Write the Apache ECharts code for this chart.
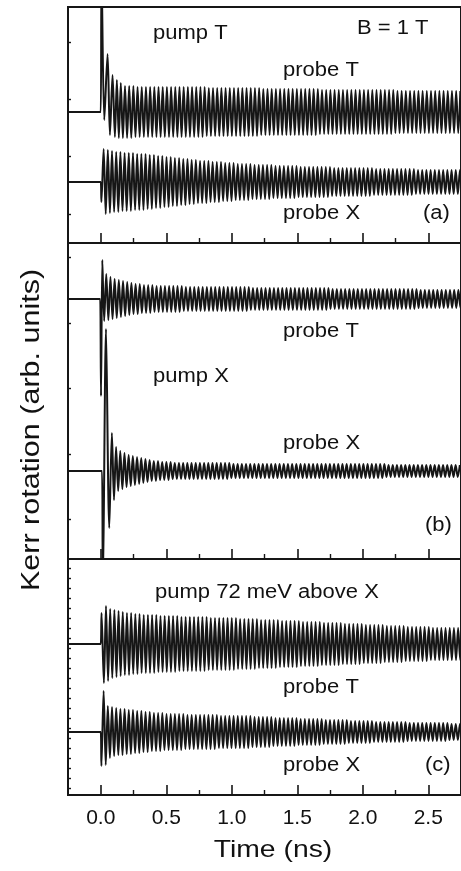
<!DOCTYPE html>
<html>
<head>
<meta charset="utf-8">
<script src="https://cdn.jsdelivr.net/npm/echarts@6/dist/echarts.min.js"></script>
<style>
  html, body { margin: 0; padding: 0; background: #fff; }
  #chart { width: 461px; height: 871px; }
</style>
</head>
<body>
<div id="chart"></div>
<script>
// ---- time axis -------------------------------------------------------------
const TIME_TICKS = [0, 0.5, 1.0, 1.5, 2.0, 2.5];
const TIME_MINOR_TICKS = [0.25, 0.75, 1.25, 1.75, 2.25, 2.75];
const HALF_PERIOD = 0.016;   // ns, half of the ~32 ps Larmor precession period

// ---- panel (a): pump T -----------------------------------------------------
const aProbeTOffset = 13.1;
const aProbeTLead = [[-0.25, 0], [-0.01, 0], [0.0, 0], [0.006, 14], [0.027, -0.8], [0.052, 5.8],
  [0.070, -2.3], [0.090, 3.7], [0.108, -2.5], [0.123, 3.2], [0.138, -2.6], [0.153, 2.9]];
const aProbeTStart = 0.169;
const aProbeTAmp = [
  2.6, 2.6, 2.6, 2.5, 2.5, 2.5, 2.5, 2.5, 2.5, 2.5,
  2.5, 2.5, 2.5, 2.5, 2.5, 2.5, 2.5, 2.5, 2.5, 2.5,
  2.4, 2.4, 2.4, 2.4, 2.4, 2.4, 2.4, 2.4, 2.4, 2.4,
  2.4, 2.4, 2.4, 2.3, 2.3, 2.3, 2.3, 2.3, 2.3, 2.3,
  2.3, 2.3, 2.3, 2.3, 2.3, 2.3, 2.3, 2.2, 2.2, 2.2,
  2.2, 2.2, 2.2, 2.2, 2.2, 2.2, 2.2, 2.2, 2.2, 2.2,
  2.2, 2.2, 2.2, 2.2, 2.2, 2.1, 2.1, 2.1, 2.1, 2.1,
  2.1, 2.1, 2.1, 2.1, 2.1, 2.1, 2.1, 2.1, 2.1, 2.1,
  2.1];

const aProbeXOffset = 6.1;
const aProbeXLead = [[-0.25, 0], [-0.01, 0], [0.0, 0], [0.005, -2.0], [0.022, 3.3], [0.038, -3.2],
  [0.054, 3.2], [0.070, -3.1], [0.086, 3.1]];
const aProbeXStart = 0.102;
const aProbeXAmp = [
  3.0, 3.0, 2.9, 2.9, 2.9, 2.8, 2.8, 2.8, 2.7, 2.7,
  2.6, 2.6, 2.5, 2.5, 2.4, 2.4, 2.3, 2.3, 2.2, 2.2,
  2.1, 2.1, 2.1, 2.0, 2.0, 2.0, 1.9, 1.9, 1.9, 1.8,
  1.8, 1.8, 1.8, 1.7, 1.7, 1.7, 1.7, 1.7, 1.6, 1.6,
  1.6, 1.6, 1.6, 1.6, 1.5, 1.5, 1.5, 1.5, 1.5, 1.5,
  1.5, 1.5, 1.4, 1.4, 1.4, 1.4, 1.4, 1.4, 1.4, 1.4,
  1.4, 1.4, 1.3, 1.3, 1.3, 1.3, 1.3, 1.3, 1.3, 1.3,
  1.3, 1.3, 1.2, 1.2, 1.2, 1.2, 1.2, 1.2, 1.2, 1.2,
  1.2, 1.2, 1.2, 1.2];

// ---- panel (b): pump X -----------------------------------------------------
const bProbeTOffset = 26.0;
const bProbeTLead = [[-0.25, 0], [-0.01, 0], [-0.004, 0], [0.002, -9.7], [0.012, 3.9], [0.026, -2.2],
  [0.042, 2.5], [0.058, -2.1], [0.074, 2.2]];
const bProbeTStart = 0.090;
const bProbeTAmp = [
  2.0, 1.9, 1.8, 1.7, 1.6, 1.5, 1.5, 1.4, 1.4, 1.4,
  1.3, 1.3, 1.3, 1.3, 1.3, 1.3, 1.3, 1.2, 1.2, 1.2,
  1.2, 1.2, 1.2, 1.2, 1.2, 1.2, 1.2, 1.2, 1.2, 1.2,
  1.2, 1.2, 1.2, 1.1, 1.1, 1.1, 1.1, 1.1, 1.1, 1.1,
  1.1, 1.1, 1.1, 1.1, 1.1, 1.1, 1.1, 1.1, 1.1, 1.1,
  1.1, 1.1, 1.0, 1.0, 1.0, 1.0, 1.0, 1.0, 1.0, 1.0,
  1.0, 1.0, 1.0, 1.0, 1.0, 1.0, 1.0, 1.0, 1.0, 1.0,
  1.0, 1.0, 1.0, 0.9, 0.9, 0.9, 0.9, 0.9, 0.9, 0.9,
  0.9, 0.9, 0.9, 0.9];

const bProbeXOffset = 8.8;
const bProbeXLead = [[-0.25, 0], [0.0, 0], [0.01, 0], [0.016, -12], [0.040, 14.2], [0.065, -5.7],
  [0.085, 3.8], [0.101, -2.9], [0.117, 2.4]];
const bProbeXStart = 0.133;
const bProbeXAmp = [
  2.0, 1.8, 1.6, 1.5, 1.4, 1.3, 1.2, 1.1, 1.0, 1.0,
  0.9, 0.9, 0.9, 0.8, 0.8, 0.8, 0.8, 0.8, 0.8, 0.8,
  0.8, 0.8, 0.8, 0.8, 0.8, 0.8, 0.8, 0.7, 0.7, 0.7,
  0.7, 0.7, 0.7, 0.7, 0.7, 0.7, 0.7, 0.7, 0.7, 0.7,
  0.7, 0.7, 0.7, 0.7, 0.7, 0.7, 0.7, 0.7, 0.7, 0.7,
  0.7, 0.7, 0.7, 0.7, 0.7, 0.7, 0.7, 0.7, 0.7, 0.7,
  0.7, 0.7, 0.7, 0.7, 0.6, 0.6, 0.6, 0.6, 0.6, 0.6,
  0.6, 0.6, 0.6, 0.6, 0.6, 0.6, 0.6, 0.6, 0.6, 0.6,
  0.6, 0.6];

// ---- panel (c): pump 72 meV above X ---------------------------------------
const cProbeTOffset = 15.1;
const cProbeTLead = [[-0.25, 0], [-0.01, 0], [0.0, 0], [0.006, 3.1], [0.024, -3.9], [0.040, 3.8],
  [0.056, -3.7], [0.072, 3.5]];
const cProbeTStart = 0.088;
const cProbeTAmp = [
  3.4, 3.3, 3.2, 3.1, 3.1, 3.0, 3.0, 2.9, 2.9, 2.9,
  2.9, 2.8, 2.8, 2.8, 2.8, 2.8, 2.7, 2.7, 2.7, 2.7,
  2.7, 2.7, 2.7, 2.6, 2.6, 2.6, 2.6, 2.6, 2.6, 2.6,
  2.5, 2.5, 2.5, 2.5, 2.5, 2.4, 2.4, 2.4, 2.4, 2.4,
  2.3, 2.3, 2.3, 2.3, 2.3, 2.2, 2.2, 2.2, 2.2, 2.2,
  2.1, 2.1, 2.1, 2.1, 2.1, 2.0, 2.0, 2.0, 2.0, 2.0,
  1.9, 1.9, 1.9, 1.9, 1.9, 1.8, 1.8, 1.8, 1.8, 1.8,
  1.7, 1.7, 1.7, 1.7, 1.7, 1.7, 1.6, 1.6, 1.6, 1.6,
  1.6, 1.6, 1.6, 1.6];

const cProbeXOffset = 6.3;
const cProbeXLead = [[-0.25, 0], [-0.01, 0], [0.0, 0], [0.005, -3.4], [0.022, 4.1], [0.038, -3.3],
  [0.054, 2.6], [0.070, -2.6], [0.086, 2.5]];
const cProbeXStart = 0.102;
const cProbeXAmp = [
  2.4, 2.3, 2.3, 2.2, 2.2, 2.1, 2.1, 2.0, 2.0, 1.9,
  1.9, 1.9, 1.8, 1.8, 1.8, 1.8, 1.8, 1.7, 1.7, 1.7,
  1.7, 1.7, 1.7, 1.7, 1.7, 1.6, 1.6, 1.6, 1.6, 1.6,
  1.6, 1.6, 1.6, 1.5, 1.5, 1.5, 1.5, 1.5, 1.4, 1.4,
  1.4, 1.4, 1.4, 1.4, 1.3, 1.3, 1.3, 1.3, 1.3, 1.3,
  1.2, 1.2, 1.2, 1.2, 1.2, 1.2, 1.1, 1.1, 1.1, 1.1,
  1.1, 1.1, 1.0, 1.0, 1.0, 1.0, 1.0, 1.0, 1.0, 1.0,
  0.9, 0.9, 0.9, 0.9, 0.9, 0.9, 0.9, 0.9, 0.9, 0.9,
  0.8, 0.8, 0.8, 0.8];

// y-axis tick marks (arb. units) of each panel
const aYTicks = [2.9, 8.7, 14.4, 20.1];
const bYTicks = [4.0, 10.5, 17.1, 23.6, 30.2];
const cYTicks = [0.7, 1.7, 2.7, 3.7, 4.7, 5.7, 6.7, 7.7, 8.7, 9.7, 10.7, 11.7,
  12.7, 13.7, 14.7, 15.7, 16.7, 17.7, 18.7, 19.7, 20.7, 21.7, 22.7];

// ---------------------------------------------------------------------------
// Builds a Kerr trace: the recorded onset points, then one trough/peak pair
// per precession cycle with the listed amplitude, all shifted by the offset.
function buildTrace(offset, lead, start, amps) {
  const pts = lead.map(([t, v]) => [t, offset + v]);
  amps.forEach((a, k) => {
    const t = start + 2 * k * HALF_PERIOD;
    pts.push([t, offset - a]);
    pts.push([t + HALF_PERIOD, offset + a]);
  });
  return pts;
}

const INK = '#161616';
const FONT = '"Liberation Sans", Arial, Helvetica, sans-serif';

const panels = [
  { top: 7,   height: 236, yMax: 23.6, yTicks: aYTicks, labels: false },
  { top: 243, height: 316, yMax: 31.6, yTicks: bYTicks, labels: false },
  { top: 559, height: 236, yMax: 23.6, yTicks: cYTicks, labels: true }
];

const grid = panels.map(p => ({
  left: 68, width: 395, top: p.top, height: p.height,
  show: true, borderColor: INK, borderWidth: 2, backgroundColor: 'transparent'
}));

const xAxis = [];
panels.forEach((p, i) => {
  // major ticks (and labels on the bottom panel)
  xAxis.push({
    type: 'value', gridIndex: i, position: 'bottom', min: -0.25, max: 2.75,
    axisLine: { show: false, onZero: false },
    axisTick: { show: true, inside: true, length: 10, customValues: TIME_TICKS,
      lineStyle: { color: INK, width: 1.6 } },
    axisLabel: { show: p.labels, customValues: TIME_TICKS, margin: 13,
      formatter: v => v.toFixed(1), color: '#111', fontSize: 21, fontFamily: FONT },
    splitLine: { show: false }
  });
  // minor ticks
  xAxis.push({
    type: 'value', gridIndex: i, position: 'bottom', min: -0.25, max: 2.75,
    axisLine: { show: false, onZero: false },
    axisTick: { show: true, inside: true, length: 5, customValues: TIME_MINOR_TICKS,
      lineStyle: { color: INK, width: 1.4 } },
    axisLabel: { show: false },
    splitLine: { show: false }
  });
});

const yAxis = panels.map((p, i) => ({
  type: 'value', gridIndex: i, position: 'left', min: 0, max: p.yMax,
  axisLine: { show: false, onZero: false },
  axisTick: { show: true, inside: true, length: 3, customValues: p.yTicks,
    lineStyle: { color: INK, width: 1.4 } },
  axisLabel: { show: false },
  splitLine: { show: false }
}));

const traces = [
  { panel: 0, data: buildTrace(aProbeTOffset, aProbeTLead, aProbeTStart, aProbeTAmp) },
  { panel: 0, data: buildTrace(aProbeXOffset, aProbeXLead, aProbeXStart, aProbeXAmp) },
  { panel: 1, data: buildTrace(bProbeTOffset, bProbeTLead, bProbeTStart, bProbeTAmp) },
  { panel: 1, data: buildTrace(bProbeXOffset, bProbeXLead, bProbeXStart, bProbeXAmp) },
  { panel: 2, data: buildTrace(cProbeTOffset, cProbeTLead, cProbeTStart, cProbeTAmp) },
  { panel: 2, data: buildTrace(cProbeXOffset, cProbeXLead, cProbeXStart, cProbeXAmp) }
];

const series = traces.map(tr => ({
  type: 'line',
  xAxisIndex: tr.panel * 2,
  yAxisIndex: tr.panel,
  data: tr.data,
  showSymbol: false,
  symbol: 'none',
  smooth: 0.3,
  clip: true,
  lineStyle: { color: INK, width: 2 },
  emphasis: { disabled: true },
  animation: false
}));

function label(text, x, y, size, extra) {
  return Object.assign({
    type: 'text', x: x, y: y, z: 100,
    style: { text: text, font: size + 'px ' + FONT, fill: '#111',
      textAlign: 'left', textVerticalAlign: 'middle' }
  }, extra || {});
}

const graphics = [
  label('pump T', 153, 33, 20, { scaleX: 1.1 }),
  label('B = 1 T', 357, 28, 20, { scaleX: 1.1 }),
  label('probe T', 283, 70, 20, { scaleX: 1.1 }),
  label('probe X', 283, 213, 20, { scaleX: 1.1 }),
  label('(a)', 423, 213, 20, { scaleX: 1.1 }),
  label('probe T', 283, 331, 20, { scaleX: 1.1 }),
  label('pump X', 153, 376, 20, { scaleX: 1.1 }),
  label('probe X', 283, 443, 20, { scaleX: 1.1 }),
  label('(b)', 425, 525, 20, { scaleX: 1.1 }),
  label('pump 72 meV above X', 155, 592, 20, { scaleX: 1.1 }),
  label('probe T', 283, 687, 20, { scaleX: 1.1 }),
  label('probe X', 283, 765, 20, { scaleX: 1.1 }),
  label('(c)', 425, 765, 20, { scaleX: 1.1 }),
  {
    type: 'text', x: 273, y: 850, z: 100, scaleX: 1.18,
    style: { text: 'Time (ns)', font: '24px ' + FONT, fill: '#111',
      textAlign: 'center', textVerticalAlign: 'middle' }
  },
  {
    type: 'text', x: 32, y: 430, z: 100, rotation: Math.PI / 2, scaleX: 1.22,
    style: { text: 'Kerr rotation (arb. units)', font: '25px ' + FONT, fill: '#111',
      textAlign: 'center', textVerticalAlign: 'middle' }
  }
];

const chart = echarts.init(document.getElementById('chart'), null, { renderer: 'canvas' });
chart.setOption({
  animation: false,
  backgroundColor: '#fff',
  grid: grid,
  xAxis: xAxis,
  yAxis: yAxis,
  series: series,
  graphic: { elements: graphics }
});
</script>
</body>
</html>
